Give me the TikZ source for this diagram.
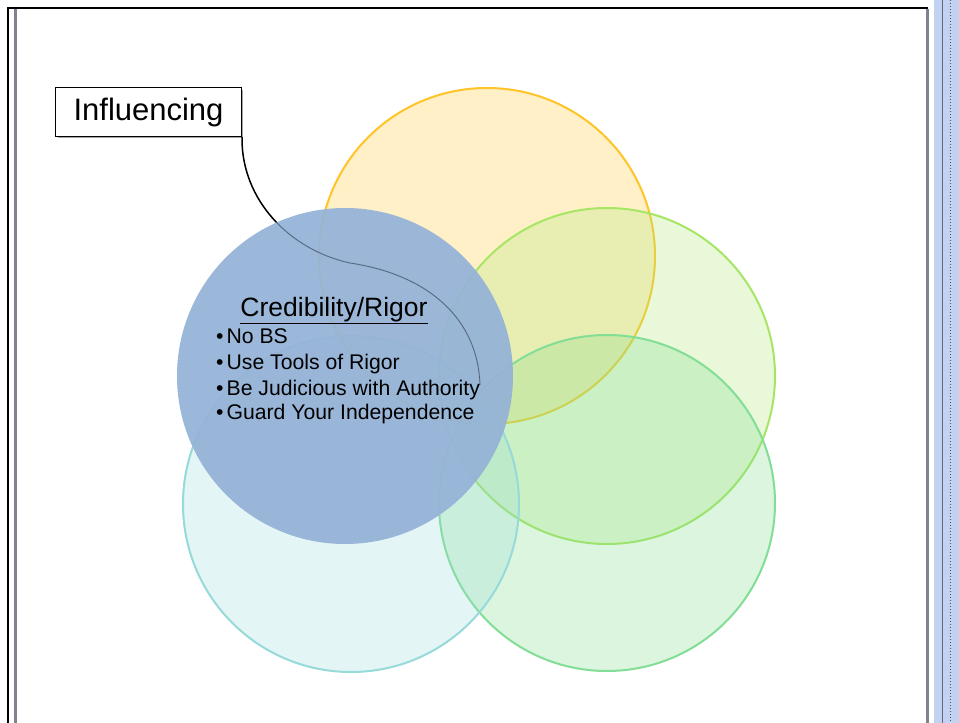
\documentclass[tikz,border=0pt]{standalone}
\usepackage{fontspec}
\setmainfont{Liberation Sans}
\begin{document}
\begin{tikzpicture}[x=1pt,y=-1pt,
  circ/.style={line width=2pt},
  bul/.style={anchor=base west,inner sep=0pt,font=\fontsize{21.2}{25}\selectfont},
]
\definecolor{cBlue}{RGB}{149,179,215}
\definecolor{cYelL}{RGB}{255,214,100}
\definecolor{cYelD}{RGB}{255,196,40}
\definecolor{cLgF}{RGB}{175,232,120}
\definecolor{cLgD}{RGB}{166,230,100}
\definecolor{cGrF}{RGB}{130,222,140}
\definecolor{cGrD}{RGB}{130,222,150}
\definecolor{cTeF}{RGB}{150,218,218}
\definecolor{cTeD}{RGB}{160,222,222}
\definecolor{cFrame}{RGB}{127,131,145}
\definecolor{cStripe}{RGB}{193,210,242}
\useasboundingbox (0,0) rectangle (959,723);
\fill[white] (0,0) rectangle (959,723);
% right stripe
\fill[cStripe] (934,0) rectangle (959,723);
\draw[cFrame!80!black,line width=1.5pt] (942.5,0) -- (942.5,723);
\draw[cFrame!60!black,line width=1pt,dotted] (950,0) -- (950,723);
% frame
\draw[black,line width=2pt] (8,8) -- (928,8);
\draw[black,line width=2pt] (8,7) -- (8,723);
\draw[cFrame,line width=3pt] (15,9) -- (15,723);
\draw[cFrame,line width=3pt] (927.5,9) -- (927.5,723);
% circles
\path[circ,draw=cYelD,fill=cYelL,fill opacity=0.36] (487,256) circle[radius=168];
\path[circ,draw=cLgD,fill=cLgF,fill opacity=0.28] (607,376) circle[radius=168];
\path[circ,draw=cGrD,fill=cGrF,fill opacity=0.28] (607,503) circle[radius=168];
\path[circ,draw=cTeF,fill=cTeF,fill opacity=0.25] (351,504) circle[radius=168];
% callout box
\fill[gray!70] (58,90) rectangle (243,138);
\node[draw=black,fill=white,line width=1pt,minimum width=186pt,minimum height=49pt,inner sep=0pt,
  anchor=north west,font=\fontsize{31}{36}\selectfont] (infl) at (55,87) {Influencing};
\coordinate (tip) at (480,385);
\draw[black,line width=1.5pt] (infl.south east) .. controls (241,200) and (290,250) .. (350,263)
   .. controls (430,275) and (478,320) .. (tip);
% blue circle on top
\path[fill=cBlue,fill opacity=0.94] (345,376) circle[radius=168];
\begin{scope}
\clip (345,376) circle[radius=168];
\draw[cBlue!55!black,line width=0.7pt] (infl.south east) .. controls (241,200) and (290,250) .. (350,263)
   .. controls (430,275) and (478,320) .. (tip);
\end{scope}
\node[anchor=base,inner sep=0pt,font=\fontsize{26.5}{30}\selectfont] (title) at (334,316)
  {\underline{Credibility/Rigor}};
\node[bul] (b1) at (216,343) {\textbullet\hspace{3pt}No BS};
\node[bul] (b2) at (216,369) {\textbullet\hspace{3pt}Use Tools of Rigor};
\node[bul] (b3) at (216,395) {\textbullet\hspace{3pt}Be Judicious with Authority};
\node[bul] (b4) at (216,419) {\textbullet\hspace{3pt}Guard Your Independence};
\end{tikzpicture}
\end{document}
